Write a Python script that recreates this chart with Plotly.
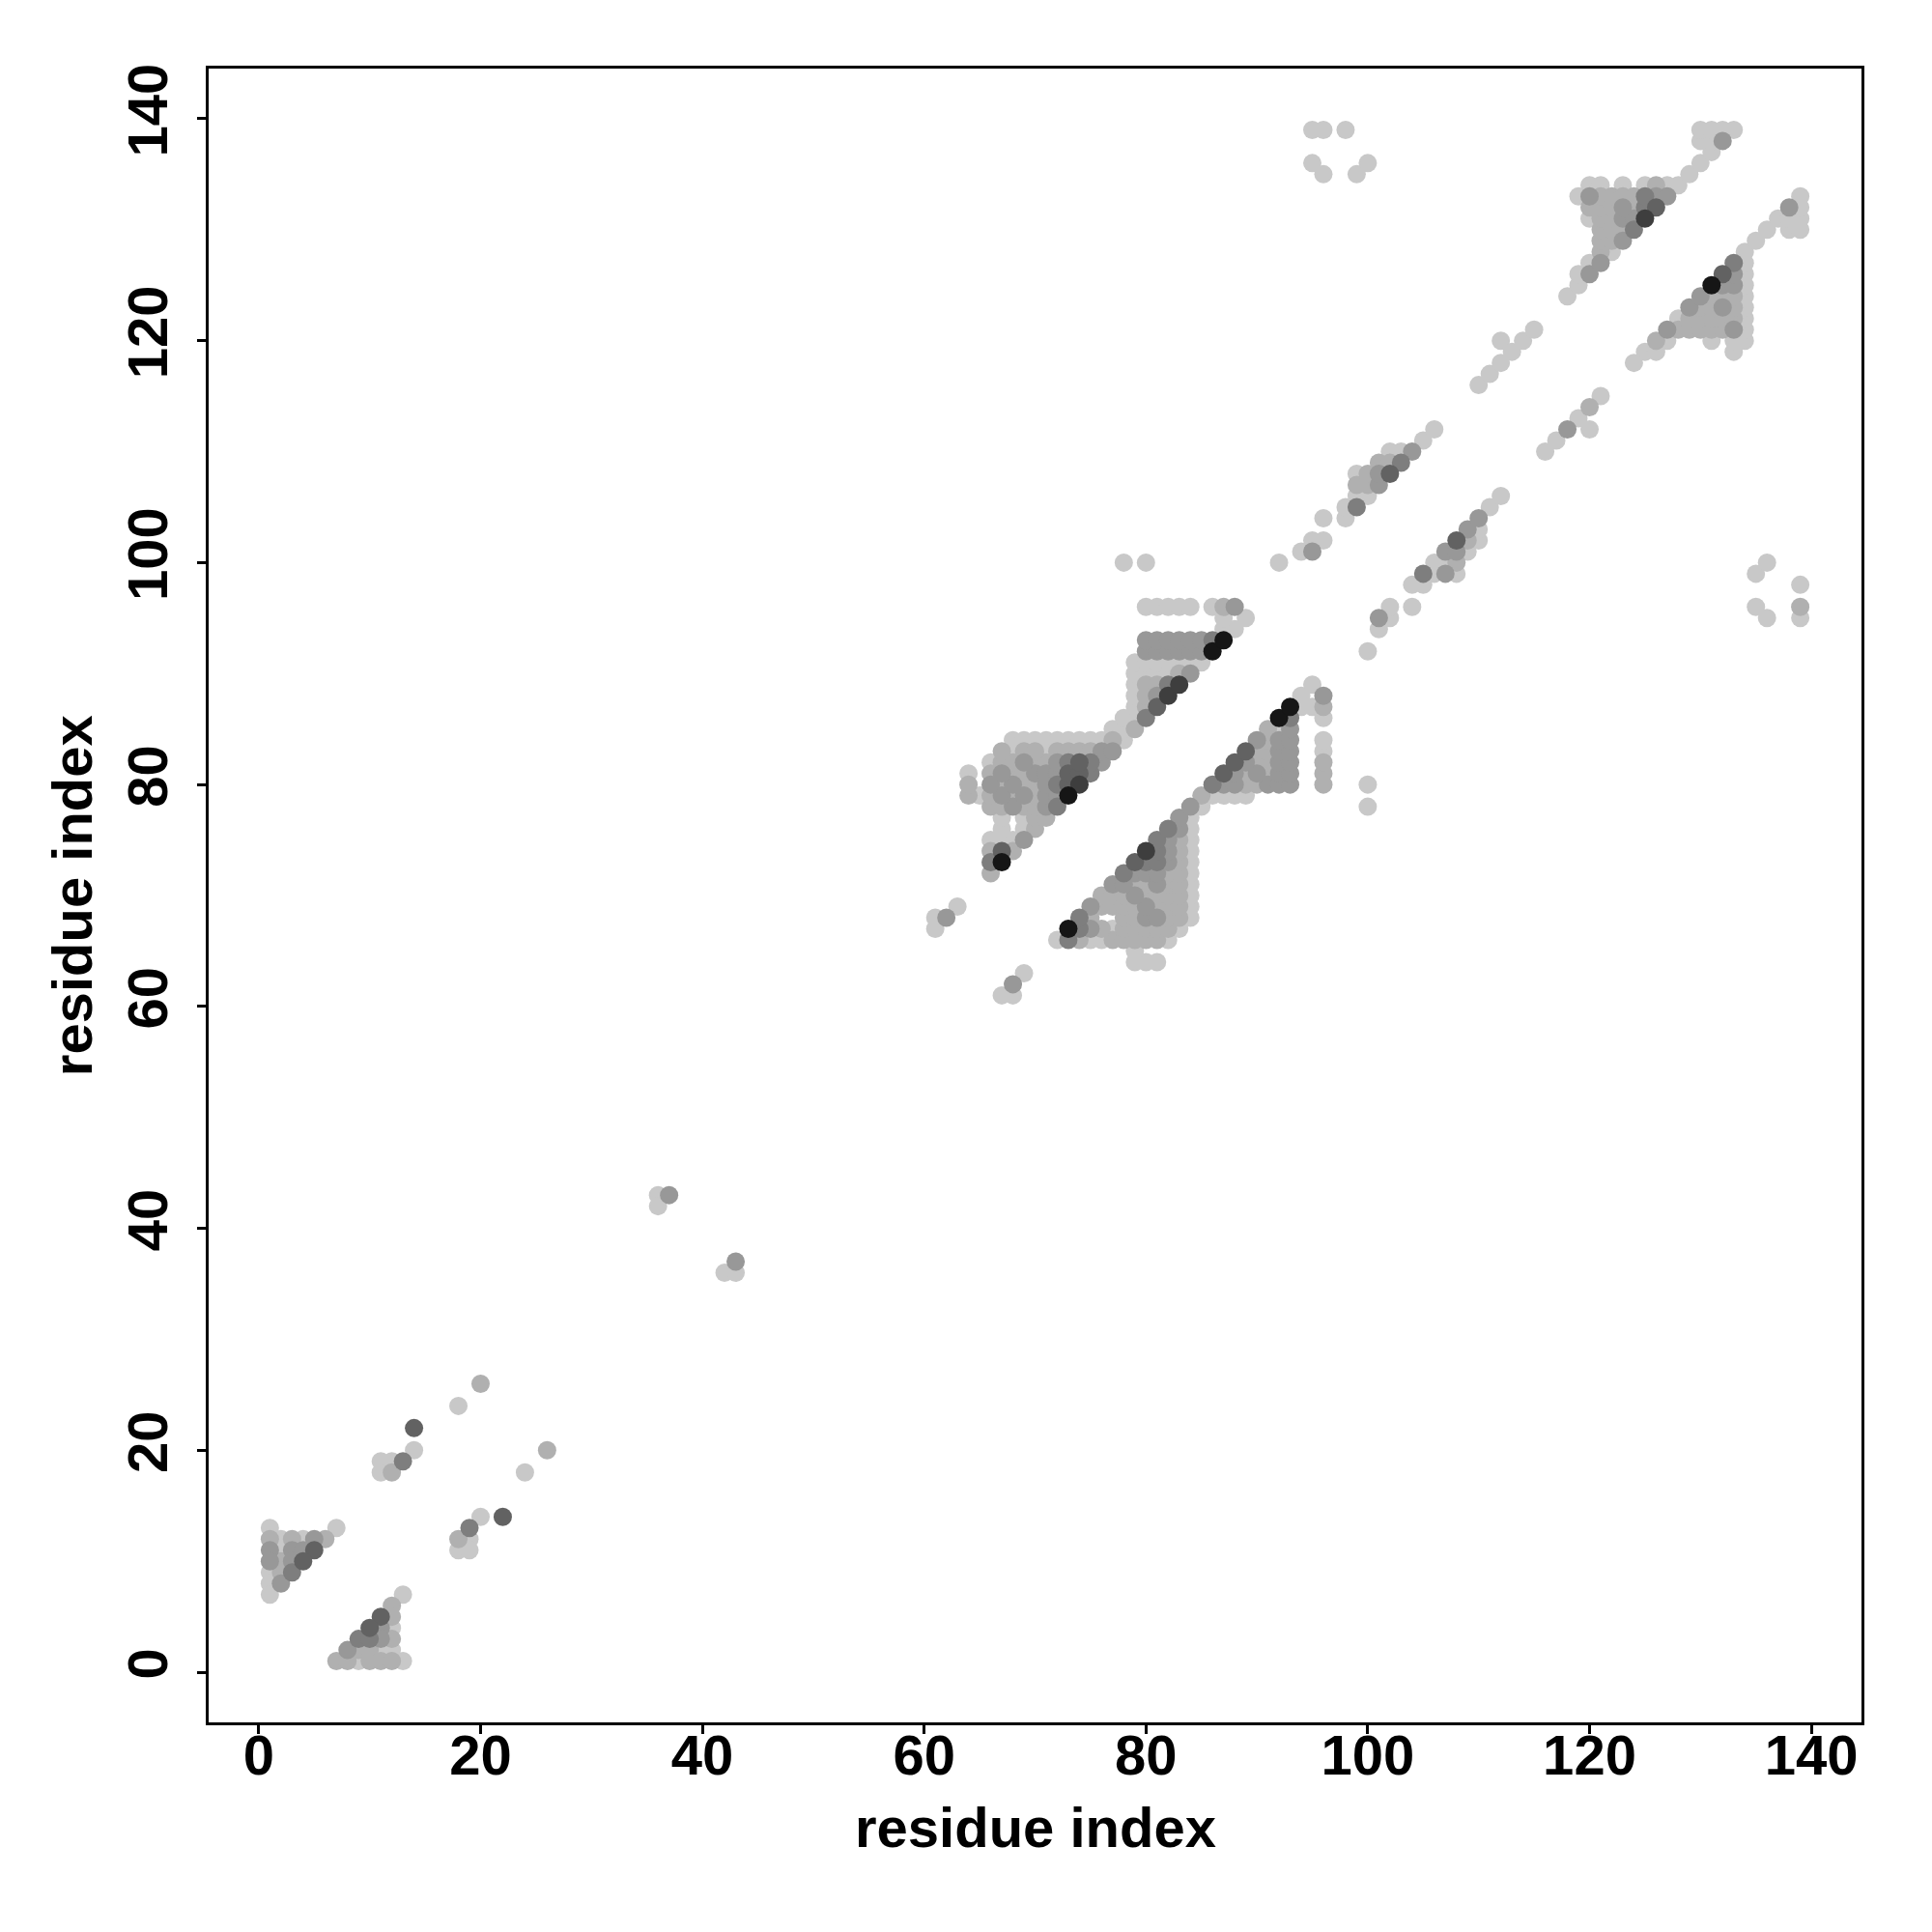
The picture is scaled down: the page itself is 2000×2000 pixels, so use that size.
import plotly.graph_objects as go

# Shade levels: 0 = lightest grey ... 6 = black
GREYS = [200, 176, 152, 126, 98, 62, 22]

# Row-wise runs: (y, x_start, [levels for consecutive x])
bottom_left_runs = [
    (13, 1, [0]), (13, 7, [0]),
    (12, 1, [1, 0, 1, 0, 2, 1]),
    (11, 1, [2, 0, 2, 2, 4]),
    (10, 1, [2, 1, 2, 4]),
    (9, 1, [0, 1, 3]),
    (8, 1, [0, 2]),
    (7, 1, [0]),
    (7, 13, [0]),
    (6, 12, [1]),
    (5, 11, [4, 1]),
    (4, 10, [4, 2, 0]),
    (3, 9, [3, 3, 2, 1]),
    (2, 8, [2, 1, 1, 0, 0]),
    (1, 7, [1, 1, 0, 1, 1, 1, 0]),
]

scattered_points = [
    (11, 18, 0), (12, 18, 1), (11, 19, 0), (12, 19, 0), (13, 19, 3), (14, 20, 0),
    (14, 22, 4), (18, 24, 0), (20, 26, 1), (24, 18, 0), (26, 20, 1), (22, 14, 4),
    (20, 14, 0), (19, 13, 3), (18, 12, 1), (19, 12, 0), (18, 11, 0), (19, 11, 0),
    (36, 43, 0), (37, 43, 2), (36, 42, 0), (43, 37, 2), (42, 36, 0), (43, 36, 0),
    (61, 67, 0), (61, 68, 0), (62, 68, 2), (63, 69, 0),
    (67, 61, 0), (68, 61, 0), (68, 62, 2), (69, 63, 0),
    (78, 100, 0), (80, 100, 0),
    (100, 78, 0), (100, 80, 0), (100, 92, 0),
    (95, 139, 0), (96, 139, 0), (98, 139, 0), (95, 136, 0), (96, 135, 0),
    (99, 135, 0), (100, 136, 0),
    (135, 99, 0), (136, 100, 0), (135, 96, 0), (136, 95, 0), (139, 98, 0),
    (139, 96, 1), (139, 95, 0),
]

upper_cluster_runs = [
    (72, 66, [1]),
    (73, 66, [3, 6]),
    (74, 66, [1, 4, 1]),
    (75, 66, [0, 0, 0, 2]),
    (76, 67, [0]), (76, 69, [0, 1]),
    (77, 67, [0]), (77, 69, [0, 1, 1]),
    (78, 66, [1, 1, 2, 1, 1, 2, 3]),
    (79, 64, [1, 0, 1, 2, 1, 2, 1, 2, 2, 6]),
    (80, 64, [1]), (80, 66, [2, 1, 2, 1, 1, 2, 3, 4, 5]),
    (81, 64, [0]), (81, 66, [1, 2, 1, 1, 2, 2, 2, 4, 4, 3]),
    (82, 66, [0, 1, 1, 2, 1, 1, 2, 3, 4, 3, 2]),
    (83, 67, [1, 0, 1, 1, 0, 1, 1, 1, 1, 2, 2]),
    (84, 68, [0, 0, 0, 0, 0, 0, 0, 0, 0, 1, 0]),
    (85, 77, [0, 0, 1]),
    (86, 78, [0, 0, 3]),
    (87, 79, [0, 1, 4]),
    (88, 79, [0, 1, 2, 5]),
    (89, 79, [0, 1, 1, 3, 5]),
    (90, 79, [0, 0, 0, 0, 1, 2]),
    (91, 79, [0, 0, 0, 0, 0, 0, 0]),
    (92, 80, [2, 2, 2, 2, 2, 2, 6]),
    (93, 80, [2, 2, 2, 2, 2, 2, 3, 6]),
    (94, 87, [0, 0]),
    (95, 87, [0]), (95, 89, [0]),
    (96, 80, [0, 0, 0, 0, 0]), (96, 86, [0, 1, 2]),
]

lower_cluster_runs = [
    (64, 79, [0, 0, 0]),
    (65, 79, [0]),
    (66, 72, [0, 3, 1, 0, 0, 1, 1, 1, 1, 1, 0]),
    (67, 73, [6, 3, 2, 1, 0, 1, 1, 1, 1, 1, 0]),
    (68, 74, [3, 1]), (68, 78, [1, 1, 2, 2, 1, 1, 0]),
    (69, 75, [2, 1, 1, 1, 1, 2, 1, 1, 1, 0]),
    (70, 76, [1, 1, 1, 2, 1, 1, 1, 1, 0]),
    (71, 77, [2, 2, 1, 1, 2, 1, 1, 0]),
    (72, 78, [3, 2, 2, 2, 1, 1, 0]),
    (73, 79, [4, 3, 3, 2, 1, 0]),
    (74, 80, [5, 3, 2, 1, 0]),
    (75, 81, [3, 2, 1, 0]),
    (76, 82, [3, 2, 0]),
    (77, 83, [2, 0]),
    (78, 84, [2, 0]),
    (79, 85, [1, 0, 0, 0, 0]),
    (80, 86, [3, 2, 2, 1, 1, 2, 2, 2]), (80, 96, [1]),
    (81, 87, [4, 2, 1, 2, 1, 2, 2]), (81, 96, [1]),
    (82, 88, [4, 2, 1, 1, 2, 2]), (82, 96, [1]),
    (83, 89, [4, 1, 1, 2, 2]), (83, 96, [0]),
    (84, 90, [2, 1, 2, 2]), (84, 96, [0]),
    (85, 91, [1, 0, 2]),
    (86, 92, [6, 3]), (86, 96, [0]),
    (87, 93, [6, 0, 0, 1]),
    (88, 94, [0]), (88, 96, [2]),
    (89, 95, [0]),
]

mid_upper_points = [
    (92, 100, 0), (94, 101, 0), (95, 101, 2), (95, 102, 0), (96, 102, 0), (96, 104, 0),
    (98, 104, 0), (98, 105, 0), (99, 105, 3), (99, 106, 0), (100, 106, 0),
    (99, 107, 1), (100, 107, 1), (101, 107, 2), (99, 108, 0), (100, 108, 1),
    (101, 108, 2), (102, 108, 4), (101, 109, 1), (102, 109, 1), (103, 109, 3),
    (102, 110, 0), (103, 110, 0), (104, 110, 2), (105, 111, 0), (106, 112, 0),
    (110, 116, 0), (111, 117, 0), (112, 118, 0), (112, 120, 0), (113, 119, 0),
    (114, 120, 0), (115, 121, 0),
]

mid_lower_points = [
    (101, 94, 0), (101, 95, 2), (102, 95, 0), (102, 96, 0), (104, 96, 0),
    (104, 98, 0), (105, 98, 0), (105, 99, 3), (106, 99, 0), (107, 99, 2), (108, 99, 0),
    (106, 100, 0), (107, 100, 0), (108, 100, 1), (107, 101, 2), (108, 101, 2),
    (109, 101, 0), (108, 102, 4), (109, 102, 1), (110, 102, 0), (109, 103, 2),
    (110, 103, 0), (110, 104, 2), (111, 105, 0), (112, 106, 0),
    (116, 110, 0), (117, 111, 0), (118, 112, 2), (119, 113, 0), (120, 114, 1),
    (121, 115, 0), (120, 112, 0), (124, 118, 0),
]

top_upper_runs = [
    (124, 118, [0]),
    (125, 119, [0]),
    (126, 119, [0, 2]),
    (127, 120, [0, 2]),
    (128, 121, [1, 0]),
    (129, 121, [1, 1, 2]),
    (130, 121, [1, 1, 1, 3]),
    (131, 120, [0, 1, 1, 2, 2, 5]),
    (132, 120, [1, 1, 1, 2, 1, 3, 4]),
    (133, 119, [0, 2, 1, 1, 1, 1, 3, 2, 2]),
    (134, 120, [0, 0]), (134, 123, [0]), (134, 125, [0, 1, 0, 0]),
    (135, 129, [0]),
    (136, 130, [0]),
    (137, 131, [0]),
    (138, 130, [0, 0, 2]),
    (139, 130, [0, 0, 0, 0]),
]

top_lower_runs = [
    (119, 125, [0, 0]), (119, 133, [0]),
    (120, 126, [1, 0]), (120, 131, [0]), (120, 133, [0, 0]),
    (121, 127, [2, 1, 1, 1, 1, 1, 2, 0]),
    (122, 128, [0, 1, 1, 1, 1, 1, 0]),
    (123, 129, [2, 1, 1, 2, 1, 0]),
    (124, 130, [2, 1, 1, 1, 0]),
    (125, 131, [6, 2, 2, 0]),
    (126, 132, [4, 2, 0]),
    (127, 133, [3, 0]),
    (128, 134, [0]),
    (129, 135, [0]),
    (130, 136, [0]), (130, 138, [0, 0]),
    (131, 137, [0, 0, 0]),
    (132, 138, [2, 0]),
    (133, 139, [0]),
]

x_ticks = [0, 20, 40, 60, 80, 100, 120, 140]
y_ticks = [0, 20, 40, 60, 80, 100, 120, 140]


def expand_runs(runs):
    pts = []
    for y, x0, levels in runs:
        for i, lv in enumerate(levels):
            pts.append((x0 + i, y, lv))
    return pts


all_points = []
for runs in [bottom_left_runs, upper_cluster_runs, lower_cluster_runs,
             top_upper_runs, top_lower_runs]:
    all_points += expand_runs(runs)
all_points += scattered_points + mid_upper_points + mid_lower_points

# draw lighter first, darker last
all_points.sort(key=lambda p: p[2])
xs = [p[0] for p in all_points]
ys = [p[1] for p in all_points]
cols = ["rgb({0},{0},{0})".format(GREYS[p[2]]) for p in all_points]

fig = go.Figure()
fig.add_trace(go.Scatter(
    x=xs, y=ys, mode="markers",
    marker=dict(size=19, color=cols, line=dict(width=0)),
    hoverinfo="x+y", showlegend=False,
))

FONT = "Liberation Sans, Arial, sans-serif"
axis_common = dict(
    showgrid=False, zeroline=False,
    showline=True, linecolor="black", linewidth=3, mirror=True,
    ticks="outside", ticklen=9, tickwidth=3, tickcolor="black",
    tickfont=dict(family=FONT, size=58, color="black", weight="bold"),
    range=[-4.52, 144.52],
)

fig.update_layout(
    width=2000, height=2000,
    margin=dict(l=208, r=81, t=63, b=225),
    paper_bgcolor="white", plot_bgcolor="white",
    xaxis=dict(**axis_common, tickvals=x_ticks, ticktext=[str(v) for v in x_ticks],
               ticklabelstandoff=-28),
    yaxis=dict(**axis_common, tickvals=y_ticks, ticktext=[str(v) for v in y_ticks],
               tickangle=-90, ticklabelstandoff=8),
    annotations=[
        dict(text="<b>residue index</b>", xref="paper", yref="paper",
             x=0.5, y=-0.0631, xanchor="center", yanchor="middle",
             showarrow=False, font=dict(family=FONT, size=58, color="black")),
        dict(text="<b>residue index</b>", xref="paper", yref="paper",
             x=-0.0829, y=0.5, xanchor="center", yanchor="middle", textangle=-90,
             showarrow=False, font=dict(family=FONT, size=58, color="black")),
    ],
)

fig.write_html("out.html")
